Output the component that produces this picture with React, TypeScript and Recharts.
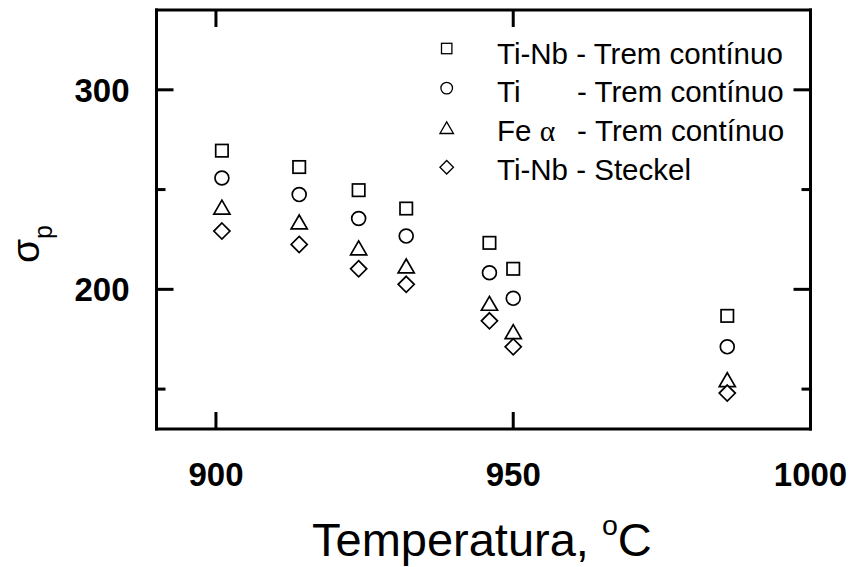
import React from 'react';
import { ScatterChart, Scatter, XAxis, YAxis, Customized } from 'recharts';

const temperatures = [901, 914, 924, 932, 946, 950, 986];
const tiNbContinuous = [269.5, 261.3, 249.7, 240.5, 223.3, 210.3, 186.7];
const tiContinuous = [255.8, 247.5, 235.5, 226.7, 208.3, 195.5, 171.2];
const feAlphaContinuous = [241.2, 233.8, 220.8, 211.7, 193.0, 178.8, 154.7];
const tiNbSteckel = [229.2, 222.5, 210.3, 202.5, 184.2, 171.2, 148.0];

const xTicks = [900, 950, 1000];
const xTopTicks = [900, 950];
const yTicks = [150, 200, 250, 300];
const yLabeledTicks = [200, 300];

const xDomain: [number, number] = [890, 1000];
const yDomain: [number, number] = [130, 340];

const FONT = '"Liberation Sans", Arial, Helvetica, sans-serif';

type Kind = 'square' | 'circle' | 'triangle' | 'diamond';

const toPoints = (ys: number[]) => temperatures.map((x, i) => ({ x, y: ys[i] }));

const seriesList: { name: string; kind: Kind; data: { x: number; y: number }[] }[] = [
  { name: 'Ti-Nb - Trem contínuo', kind: 'square', data: toPoints(tiNbContinuous) },
  { name: 'Ti - Trem contínuo', kind: 'circle', data: toPoints(tiContinuous) },
  { name: 'Fe α - Trem contínuo', kind: 'triangle', data: toPoints(feAlphaContinuous) },
  { name: 'Ti-Nb - Steckel', kind: 'diamond', data: toPoints(tiNbSteckel) },
];

function Marker({ kind, cx, cy, s, sw }: { kind: Kind; cx: number; cy: number; s: number; sw: number }) {
  const common = { fill: '#fff', stroke: '#000', strokeWidth: sw };
  if (kind === 'square') {
    return <rect x={cx - s} y={cy - s} width={2 * s} height={2 * s} {...common} />;
  }
  if (kind === 'circle') {
    return <circle cx={cx} cy={cy} r={s * 1.12} {...common} />;
  }
  if (kind === 'triangle') {
    const w = s * 1.3;
    const h = s * 1.12;
    return <path d={`M${cx},${cy - h} L${cx + w},${cy + h} L${cx - w},${cy + h} Z`} {...common} strokeLinejoin="miter" />;
  }
  const d = s * 1.3;
  return <path d={`M${cx},${cy - d} L${cx + d},${cy} L${cx},${cy + d} L${cx - d},${cy} Z`} {...common} />;
}

const BottomTick = (p: any) => {
  const { x, y, payload } = p;
  return (
    <g>
      <line x1={x} y1={y} x2={x} y2={y - 17} stroke="#000" strokeWidth={3} />
      <text x={x} y={y + 57} textAnchor="middle" fontFamily={FONT} fontWeight="bold" fontSize={33} fill="#000">
        {payload.value}
      </text>
    </g>
  );
};

const TopTick = (p: any) => {
  const { x, y } = p;
  return <line x1={x} y1={y} x2={x} y2={y + 17} stroke="#000" strokeWidth={3} />;
};

const LeftTick = (p: any) => {
  const { x, y, payload } = p;
  const major = yLabeledTicks.includes(payload.value);
  return (
    <g>
      <line x1={x} y1={y} x2={x + (major ? 17 : 9)} y2={y} stroke="#000" strokeWidth={3} />
      {major && (
        <text x={x - 27} y={y + 12} textAnchor="end" fontFamily={FONT} fontWeight="bold" fontSize={33} fill="#000">
          {payload.value}
        </text>
      )}
    </g>
  );
};

const RightTick = (p: any) => {
  const { x, y, payload } = p;
  const major = yLabeledTicks.includes(payload.value);
  return <line x1={x} y1={y} x2={x - (major ? 17 : 9)} y2={y} stroke="#000" strokeWidth={3} />;
};

const Decorations = () => {
  const symX = 438.7;
  const textX = 489;
  const dashX = 569;
  return (
    <g>
      {seriesList.map((s, i) => {
        const cy = 40.5 + i * 39.6;
        const base = cy + 15 - i * 0.8;
        let label: React.ReactNode;
        if (i === 0) label = <text x={textX} y={base}>Ti-Nb - Trem contínuo</text>;
        else if (i === 1)
          label = (
            <text x={textX} y={base}>
              Ti<tspan x={dashX}>- Trem contínuo</tspan>
            </text>
          );
        else if (i === 2)
          label = (
            <text x={textX} y={base}>
              Fe <tspan fontFamily='"Liberation Serif", "DejaVu Serif", serif'>α</tspan>
              <tspan x={dashX}>- Trem contínuo</tspan>
            </text>
          );
        else label = <text x={textX} y={base}>Ti-Nb - Steckel</text>;
        return (
          <g key={s.name} fontFamily={FONT} fontSize={29.5} fill="#000">
            <Marker kind={s.kind} cx={symX} cy={cy} s={5.2} sw={1.3} />
            {label}
          </g>
        );
      })}
      <text x={304} y={548} fontFamily={FONT} fontSize={47} fill="#000">
        Temperatura,{' '}
        <tspan fontSize={28.5} dy={-21}>o</tspan>
        <tspan dy={21}>C</tspan>
      </text>
      <text x={31} y={236} transform="rotate(-90, 31, 236)" textAnchor="middle" fontFamily={FONT} fontSize={39} fill="#000">
        σ<tspan fontSize={25} dy={13}>p</tspan>
      </text>
    </g>
  );
};

export default function App() {
  const axisLine = { stroke: '#000', strokeWidth: 3, strokeLinecap: 'square' as const };
  return (
    <ScatterChart width={855} height={559} margin={{ top: 1, right: 51.5, left: 88.5, bottom: 78 }}>
      <XAxis
        type="number"
        dataKey="x"
        domain={xDomain}
        ticks={xTicks}
        allowDataOverflow
        interval={0}
        height={60}
        axisLine={axisLine}
        tickLine={false}
        tickSize={0}
        tickMargin={0}
        tick={(p: any) => <BottomTick {...p} />}
      />
      <XAxis
        xAxisId="top"
        orientation="top"
        type="number"
        dataKey="x"
        domain={xDomain}
        ticks={xTopTicks}
        allowDataOverflow
        interval={0}
        height={1}
        axisLine={axisLine}
        tickLine={false}
        tickSize={0}
        tickMargin={0}
        tick={(p: any) => <TopTick {...p} />}
      />
      <YAxis
        type="number"
        dataKey="y"
        domain={yDomain}
        ticks={yTicks}
        allowDataOverflow
        interval={0}
        width={60}
        axisLine={axisLine}
        tickLine={false}
        tickSize={0}
        tickMargin={0}
        tick={(p: any) => <LeftTick {...p} />}
      />
      <YAxis
        yAxisId="right"
        orientation="right"
        type="number"
        dataKey="y"
        domain={yDomain}
        ticks={yTicks}
        allowDataOverflow
        interval={0}
        width={1}
        axisLine={axisLine}
        tickLine={false}
        tickSize={0}
        tickMargin={0}
        tick={(p: any) => <RightTick {...p} />}
      />
      {seriesList.map((s) => (
        <Scatter
          key={s.name}
          name={s.name}
          data={s.data}
          isAnimationActive={false}
          shape={(props: any) => <Marker kind={s.kind} cx={props.cx} cy={props.cy} s={6.2} sw={1.7} />}
        />
      ))}
      {/* invisible series binding the top and right axes so they are rendered */}
      <Scatter
        data={seriesList[0].data}
        xAxisId="top"
        yAxisId="right"
        isAnimationActive={false}
        legendType="none"
        shape={() => <g />}
      />
      <Customized component={<Decorations />} />
    </ScatterChart>
  );
}
